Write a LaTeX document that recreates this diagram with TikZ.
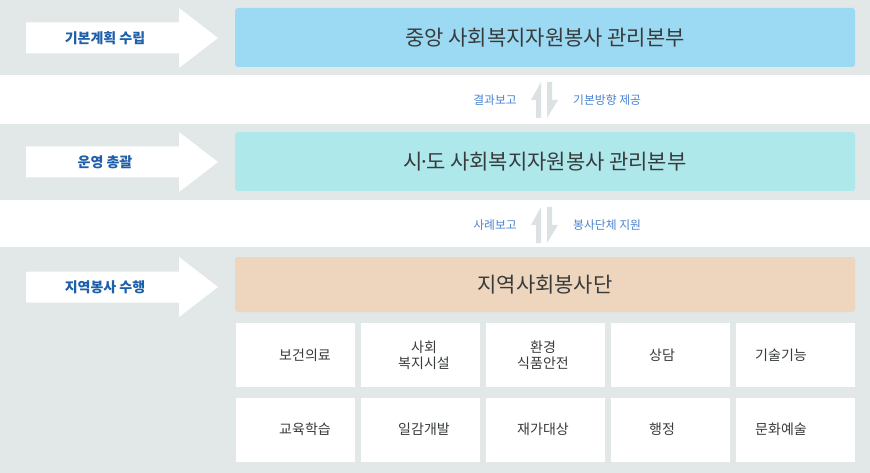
\documentclass[tikz,border=0pt]{standalone}
\usepackage{fontspec}
\setmainfont{Noto Sans CJK KR}
\usepackage{tikz}
\usetikzlibrary{positioning}
\definecolor{bandgray}{HTML}{E2E7E8}
\definecolor{hqblue}{HTML}{9CD9F2}
\definecolor{cityblue}{HTML}{AEE8EB}
\definecolor{teamtan}{HTML}{EED5BD}
\definecolor{stageblue}{HTML}{1E5FAA}
\definecolor{flowblue}{HTML}{4A84CF}
\definecolor{textgray}{HTML}{383B3C}
\definecolor{swapgray}{HTML}{DCE2E3}

\begin{document}
\begin{tikzpicture}[x=1pt,y=-1pt,
  office/.style={rectangle,rounded corners=3pt,minimum width=620pt,minimum height=59pt,text=textgray,font=\fontsize{21}{24}\selectfont},
  task/.style={rectangle,fill=white,minimum width=119pt,minimum height=64pt},
  tasktext/.style={align=center,text=textgray,font=\fontsize{14}{16}\selectfont},
  stage/.style={text=stageblue,font=\bfseries\fontsize{14}{16}\selectfont},
  flow/.style={inner sep=0pt,text=flowblue,font=\fontsize{11.8}{13}\selectfont}]
\useasboundingbox (0,0) rectangle (870,473);
\fill[white] (0,0) rectangle (870,473);
\fill[bandgray] (0,0) rectangle (870,75);
\fill[bandgray] (0,124) rectangle (870,200);
\fill[bandgray] (0,247) rectangle (870,473);

\node[office,fill=hqblue] (hq) at (545,37.5) {중앙 사회복지자원봉사 관리본부};
\node[office,fill=cityblue] (city) at (545,161.5) {시\kern-.2em·\kern-.2em도 사회복지자원봉사 관리본부};
\node[office,fill=teamtan,minimum height=55pt] (team) at (545,284.5) {지역사회봉사단};

\foreach \y/\t [count=\i] in {38/기본계획 수립,162/운영 총괄,287/지역봉사 수행} {
  \fill[white] (26,\y-15.5) -- (179,\y-15.5) -- (179,\y-30) -- (218,\y)
    -- (179,\y+30) -- (179,\y+15.5) -- (26,\y+15.5) -- cycle;
  \node[stage] (stage\i) at (105,\y) {\t};
}

\foreach \y/\up/\down [count=\i] in {100/결과보고/기본방향 제공,225/사례보고/봉사단체 지원} {
  \coordinate (swap\i) at (545,\y);
  \fill[swapgray] (541,\y-18) -- (541,\y+18) -- (536,\y+18) -- (536,\y) -- (531,\y) -- cycle;
  \fill[swapgray] (547,\y-18) -- (552,\y-18) -- (552,\y) -- (558,\y) -- (547,\y+18) -- cycle;
  \node[flow,left=28pt of swap\i] (report\i) {\up};
  \node[flow,right=28pt of swap\i] (support\i) {\down};
}

% boxes on a 125pt grid, their texts on a 119pt one
\foreach \t [count=\i] in {보건의료,사회\\복지시설,환경\\식품안전,상담,기술기능} {
  \node[task] (field\i) at (170+125*\i,355) {};
  \node[tasktext] (fieldname\i) at (186+119*\i,355) {\t};
}
\foreach \t [count=\i] in {교육학습,일감개발,재가대상,행정,문화예술} {
  \node[task] (work\i) at (170+125*\i,429.5) {};
  \node[tasktext] (workname\i) at (186+119*\i,429.5) {\t};
}
\end{tikzpicture}
\end{document}
